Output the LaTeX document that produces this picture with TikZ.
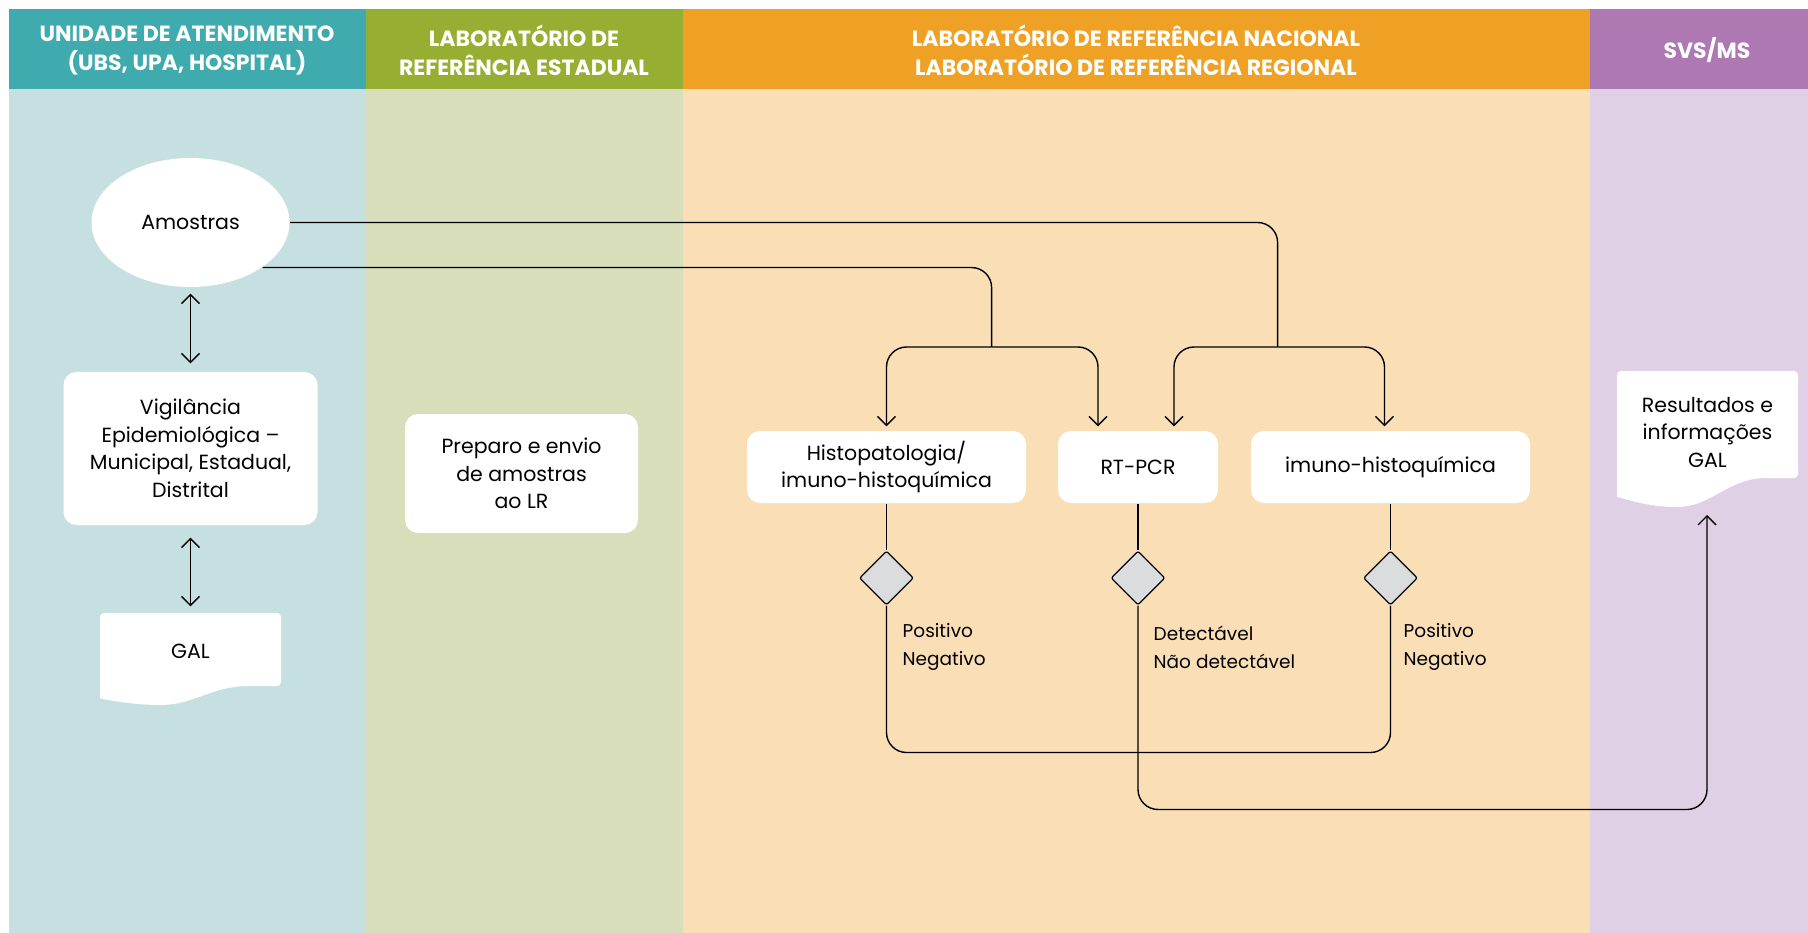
\documentclass[tikz,border=0pt]{standalone}
\usepackage{fontspec}
\setmainfont{Poppins}
\usepackage{tikz}
\usetikzlibrary{shapes.geometric,arrows.meta}
\tikzset{>={Straight Barb[length=9pt,width=18pt]}}

\definecolor{unidHead}{HTML}{3FABAE}
\definecolor{unidBg}{HTML}{C6E0E1}
\definecolor{estHead}{HTML}{96AF32}
\definecolor{estBg}{HTML}{D8DEB9}
\definecolor{nacHead}{HTML}{EEA124}
\definecolor{nacBg}{HTML}{F9DEB6}
\definecolor{svsHead}{HTML}{AE78B3}
\definecolor{svsBg}{HTML}{E0D0E5}
\definecolor{diamondgray}{HTML}{DBDCDE}

\newcommand{\boxtextfont}{\fontsize{20.5}{27.5}\selectfont}
\newcommand{\lanetitlefont}{\fontsize{22}{29}\selectfont\bfseries}
\newcommand{\outcomefont}{\fontsize{18.5}{28}\selectfont}

% paper sheet with wavy bottom: x0, y0, straight height, dip
\newcommand{\paperdoc}[4]{%
  \fill[white,shift={(#1,#2)},rounded corners=4pt]
    (0,#3) -- (0,0) -- (181,0) -- (181,#3) [sharp corners]
    -- (150,#3) .. controls (110,#3) and (95,#3+#4) .. (60,#3+#4)
    .. controls (35,#3+#4) and (15,#3+0.8*#4) .. (0,#3+0.65*#4) -- cycle;}

\begin{document}
\begin{tikzpicture}[x=1pt,y=-1pt,line width=1.4pt,line join=round,
  lanehead/.style={text=white,font=\lanetitlefont,align=center},
  box/.style={fill=white,rounded corners=13pt,align=center,inner sep=0pt,font=\boxtextfont},
  decision/.style={diamond,aspect=1,draw=black,line width=1.2pt,fill=diamondgray,minimum size=54pt,inner sep=0pt,rounded corners=2pt},
  outcome/.style={anchor=west,align=left,inner sep=0pt,font=\outcomefont},
  link/.style={rounded corners=20pt}]
\useasboundingbox (0,0) rectangle (1808,933);

% swimlanes
\fill[unidHead] (9,9) rectangle (365.5,89);
\fill[unidBg] (9,89) rectangle (365.5,933);
\fill[estHead] (365.5,9) rectangle (682.6,89);
\fill[estBg] (365.5,89) rectangle (682.6,933);
\fill[nacHead] (682.6,9) rectangle (1590,89);
\fill[nacBg] (682.6,89) rectangle (1590,933);
\fill[svsHead] (1590,9) rectangle (1808,89);
\fill[svsBg] (1590,89) rectangle (1808,933);

\node[lanehead] (hUnid) at (187,50) {UNIDADE DE ATENDIMENTO\\(UBS, UPA, HOSPITAL)};
\node[lanehead] (hEst) at (524,50) {LABORATÓRIO DE\\REFERÊNCIA ESTADUAL};
\node[lanehead] (hNac) at (1136,50) {LABORATÓRIO DE REFERÊNCIA NACIONAL\\LABORATÓRIO DE REFERÊNCIA REGIONAL};
\node[lanehead] (hSvs) at (1707,50) {SVS/MS};

% nodes
\node[fill=white,ellipse,minimum width=198pt,minimum height=129pt,inner sep=0pt,font=\boxtextfont] (amostras) at (190.5,222.5) {Amostras};
\node[box,minimum width=254pt,minimum height=153pt] (vigil) at (190.5,448.5) {Vigilância\\Epidemiológica –\\Municipal, Estadual,\\Distrital};
\paperdoc{100}{613}{73}{19}
\node[font=\boxtextfont,minimum width=181pt,minimum height=76pt,inner sep=0pt] (gal) at (190.5,651) {GAL};
\node[box,minimum width=233pt,minimum height=119pt] (preparo) at (521.5,473.5) {Preparo e envio\\de amostras\\ao LR};
\node[box,minimum width=279pt,minimum height=72pt] (histo) at (886.5,467) {Histopatologia/\\imuno-histoquímica};
\node[box,minimum width=160pt,minimum height=72pt] (rtpcr) at (1138,467) {RT-PCR};
\node[box,minimum width=279pt,minimum height=72pt] (imuno) at (1390.5,467) {imuno-histoquímica};
\paperdoc{1617}{371}{107}{29}
\node[font=\boxtextfont,align=center,inner sep=0pt] (result) at (1707.5,432) {Resultados e\\informações\\GAL};

\coordinate (rowD) at (0,578);
\node[decision] (dHisto) at (histo |- rowD) {};
\node[decision] (dRt) at (rtpcr |- rowD) {};
\node[decision] (dImuno) at (imuno |- rowD) {};

\node[outcome] (oHisto) at (902,647) {Positivo\\Negativo};
\node[outcome] (oRt) at (1153,647) {Detectável\\Não detectável};
\node[outcome] (oImuno) at (1403,647) {Positivo\\Negativo};

% connectors
\draw[<->,shorten <=6pt,shorten >=8pt] (amostras.south) -- (vigil.north);
\draw[<->,shorten <=12pt,shorten >=6pt] (vigil.south) -- (gal.north);

\coordinate (splitH) at (991.6,347);
\coordinate (splitR) at (1277.6,347);
\draw[link] (amostras.east) -| (splitR);
\draw[link] (amostras.-32) -| (splitH);
\draw[link,->,shorten >=4pt] (splitH) -| (histo.north);
\draw[link,->,shorten >=4pt] (splitH) -| ([xshift=-40pt]rtpcr.north);
\draw[link,->,shorten >=4pt] (splitR) -| ([xshift=36pt]rtpcr.north);
\draw[link,->,shorten >=4pt] (splitR) -| ([xshift=-6pt]imuno.north);

\draw (histo) -- (dHisto);
\draw (rtpcr) -- (dRt);
\draw (imuno) -- (dImuno);

\coordinate (mergeL) at (1138,752.5);
\draw[link] (dHisto.south) |- (mergeL) -| (dImuno.south);
\coordinate (backIn) at (1707,809.5);
\coordinate (resIn) at (1707,515);
\draw[link,->] (dRt.south) |- (backIn) -- (resIn);
\end{tikzpicture}
\end{document}
